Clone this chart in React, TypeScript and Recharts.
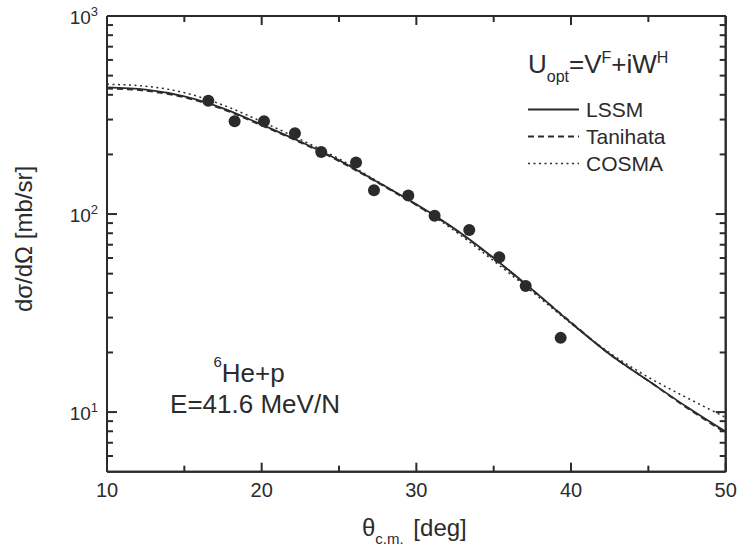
import {
  ComposedChart,
  Line,
  Scatter,
  XAxis,
  YAxis,
  ReferenceLine,
} from "recharts";

const INK = "#2b2b2b";
const FONT = "'Liberation Sans', Arial, Helvetica, sans-serif";

// theoretical curves, sampled every 2.5 deg
const ANGLES = [10, 12.5, 15, 17.5, 20, 22.5, 25, 27.5, 30, 32.5, 35, 37.5, 40, 42.5, 45, 47.5, 50];
const LSSM = [436, 425, 393, 342, 283, 232, 187, 145, 112, 84, 60, 41.5, 28.2, 19.6, 14.4, 10.6, 7.96];
const TANIHATA = [430, 419, 388, 338, 280, 230, 185, 144, 111, 83.5, 59.5, 41.3, 28.4, 19.6, 14.4, 10.5, 7.85];
const COSMA = [452, 442, 410, 355, 293, 238, 190, 146, 111, 82, 58, 40.5, 28, 19.9, 15.0, 11.8, 9.4];

// measured points
const EXP_ANGLE = [16.55, 18.25, 20.15, 22.15, 23.85, 26.1, 27.26, 29.48, 31.18, 33.42, 35.36, 37.07, 39.33];
const EXP_SIGMA = [373, 294, 294, 256, 206, 182, 132, 124, 98, 83, 60.5, 43.3, 23.7];

const X_TICKS = [10, 15, 20, 25, 30, 35, 40, 45, 50];
const X_LABELS = [10, 20, 30, 40, 50];
const Y_TICKS = [
  6, 7, 8, 9, 10, 20, 30, 40, 50, 60, 70, 80, 90,
  100, 200, 300, 400, 500, 600, 700, 800, 900, 1000,
];
const Y_LABELS = [10, 100, 1000];

const X_MIN = 10;
const X_MAX = 50;
const Y_MIN = 5;
const Y_MAX = 1000;

const SERIES = [
  { key: "lssm", name: "LSSM", dash: undefined, width: 1.8 },
  { key: "tanihata", name: "Tanihata", dash: "6 4", width: 1.8 },
  { key: "cosma", name: "COSMA", dash: "2 3.5", width: 1.5 },
];

const curveRows = ANGLES.map((a, i) => ({
  angle: a,
  lssm: LSSM[i],
  tanihata: TANIHATA[i],
  cosma: COSMA[i],
}));

const points = EXP_ANGLE.map((a, i) => ({ angle: a, sigma: EXP_SIGMA[i] }));

// inward tick lengths in data units (about 9/6 px vertically, 10/6 px horizontally)
const yMajorFactor = Math.pow(10, 9 / 198);
const yMinorFactor = Math.pow(10, 6 / 198);
const xMajorLen = 10 / 15.47;
const xMinorLen = 6 / 15.47;

function BottomTick(props: any) {
  const { x, y, payload } = props;
  const major = X_LABELS.includes(payload.value);
  return (
    <g>
      {major && (
        <text x={x} y={y + 25.5} textAnchor="middle" fontSize={20} fill={INK} fontFamily={FONT}>
          {payload.value}
        </text>
      )}
    </g>
  );
}

function LeftTick(props: any) {
  const { x, y, payload } = props;
  const major = Y_LABELS.includes(payload.value);
  const exp = Math.round(Math.log10(payload.value));
  return (
    <g>
      {major && (
        <text x={x - 9} y={y + 8} textAnchor="end" fontSize={19} fill={INK} fontFamily={FONT}>
          10
          <tspan dy={-8} fontSize={13}>{exp}</tspan>
        </text>
      )}
    </g>
  );
}

function Overlay() {
  return (
    <svg
      width={739}
      height={552}
      style={{ position: "absolute", left: 0, top: 0, pointerEvents: "none", zIndex: 0 }}
      fontFamily={FONT}
      fill={INK}
    >
      <text transform="translate(32, 239) rotate(-90)" textAnchor="middle" fontSize={24}>
        dσ/dΩ [mb/sr]
      </text>
      <text x={362} y={536} fontSize={24}>
        θ
        <tspan dy={8} fontSize={15}>c.m.</tspan>
        <tspan dy={-8} dx={3} fontSize={24}> [deg]</tspan>
      </text>

      <text x={528} y={72.7} fontSize={26}>
        U
        <tspan dy={9} fontSize={16}>opt</tspan>
        <tspan dy={-9}>=V</tspan>
        <tspan dy={-10} fontSize={16}>F</tspan>
        <tspan dy={10}>+iW</tspan>
        <tspan dy={-10} fontSize={16}>H</tspan>
      </text>
      {SERIES.map((s, i) => (
        <g key={s.key}>
          <line
            x1={528}
            x2={579}
            y1={109.5 + i * 27}
            y2={109.5 + i * 27}
            stroke={INK}
            strokeWidth={s.width}
            strokeDasharray={s.dash}
          />
          <text x={586} y={116.7 + i * 27} fontSize={21}>
            {s.name}
          </text>
        </g>
      ))}

      <text x={249} y={381.7} textAnchor="middle" fontSize={26}>
        <tspan dy={-15} fontSize={15}>6</tspan>
        <tspan dy={15}>He+p</tspan>
      </text>
      <text x={255} y={413.3} textAnchor="middle" fontSize={26}>
        E=41.6 MeV/N
      </text>
    </svg>
  );
}

const tickStyle = { stroke: INK, strokeWidth: 2 };

export default function App() {
  return (
    <div
      style={{
        position: "absolute",
        left: 0,
        top: 0,
        width: 739,
        height: 552,
        background: "#fff",
      }}
    >
      <Overlay />
      <div style={{ position: "absolute", left: 0, top: 0, zIndex: 1 }}>
        <ComposedChart
          width={739}
          height={552}
          data={curveRows}
          margin={{ top: 15, right: 12.3, bottom: 79.3, left: 106 }}
        >
          <XAxis
            xAxisId="bottom"
            dataKey="angle"
            type="number"
            domain={[X_MIN, X_MAX]}
            ticks={X_TICKS}
            interval={0}
            orientation="bottom"
            height={1}
            tickSize={0}
            tickMargin={0}
            tickLine={false}
            tick={BottomTick}
            axisLine={tickStyle}
            allowDataOverflow
          />
          <XAxis
            xAxisId="top"
            dataKey="angle"
            type="number"
            domain={[X_MIN, X_MAX]}
            ticks={X_TICKS}
            orientation="top"
            height={1}
            tick={false}
            tickLine={false}
            axisLine={tickStyle}
            allowDataOverflow
          />
          <YAxis
            yAxisId="left"
            type="number"
            scale="log"
            domain={[Y_MIN, Y_MAX]}
            ticks={Y_TICKS}
            interval={0}
            orientation="left"
            width={1}
            tickSize={0}
            tickMargin={0}
            tickLine={false}
            tick={LeftTick}
            axisLine={tickStyle}
            allowDataOverflow
          />
          <YAxis
            yAxisId="right"
            dataKey="sigma"
            type="number"
            scale="log"
            domain={[Y_MIN, Y_MAX]}
            ticks={Y_TICKS}
            orientation="right"
            width={1}
            tick={false}
            tickLine={false}
            axisLine={tickStyle}
            allowDataOverflow
          />

          {/* plot frame */}
          <ReferenceLine xAxisId="bottom" yAxisId="left" y={Y_MIN} {...tickStyle} />
          <ReferenceLine xAxisId="bottom" yAxisId="left" y={Y_MAX} {...tickStyle} />
          <ReferenceLine xAxisId="bottom" yAxisId="left" x={X_MIN} {...tickStyle} />
          <ReferenceLine xAxisId="bottom" yAxisId="left" x={X_MAX} {...tickStyle} />

          {/* inward ticks on all four sides */}
          {X_TICKS.map((t) => {
            const f = X_LABELS.includes(t) ? yMajorFactor : yMinorFactor;
            return [
              <ReferenceLine
                key={`b${t}`}
                xAxisId="bottom"
                yAxisId="left"
                segment={[{ x: t, y: Y_MIN }, { x: t, y: Y_MIN * f }]}
                {...tickStyle}
              />,
              <ReferenceLine
                key={`t${t}`}
                xAxisId="bottom"
                yAxisId="left"
                segment={[{ x: t, y: Y_MAX }, { x: t, y: Y_MAX / f }]}
                {...tickStyle}
              />,
            ];
          })}
          {Y_TICKS.map((t) => {
            const len = Y_LABELS.includes(t) ? xMajorLen : xMinorLen;
            return [
              <ReferenceLine
                key={`l${t}`}
                xAxisId="bottom"
                yAxisId="left"
                segment={[{ x: X_MIN, y: t }, { x: X_MIN + len, y: t }]}
                {...tickStyle}
              />,
              <ReferenceLine
                key={`r${t}`}
                xAxisId="bottom"
                yAxisId="left"
                segment={[{ x: X_MAX, y: t }, { x: X_MAX - len, y: t }]}
                {...tickStyle}
              />,
            ];
          })}

          {SERIES.map((s) => (
            <Line
              key={s.key}
              xAxisId="bottom"
              yAxisId="left"
              type="monotone"
              dataKey={s.key}
              name={s.name}
              stroke={INK}
              strokeWidth={s.width}
              strokeDasharray={s.dash}
              dot={false}
              activeDot={false}
              isAnimationActive={false}
            />
          ))}
          <Scatter
            xAxisId="top"
            yAxisId="right"
            data={points}
            dataKey="sigma"
            fill={INK}
            shape={(p: any) => <circle cx={p.cx} cy={p.cy} r={6} fill={INK} />}
            isAnimationActive={false}
          />
        </ComposedChart>
      </div>
    </div>
  );
}
